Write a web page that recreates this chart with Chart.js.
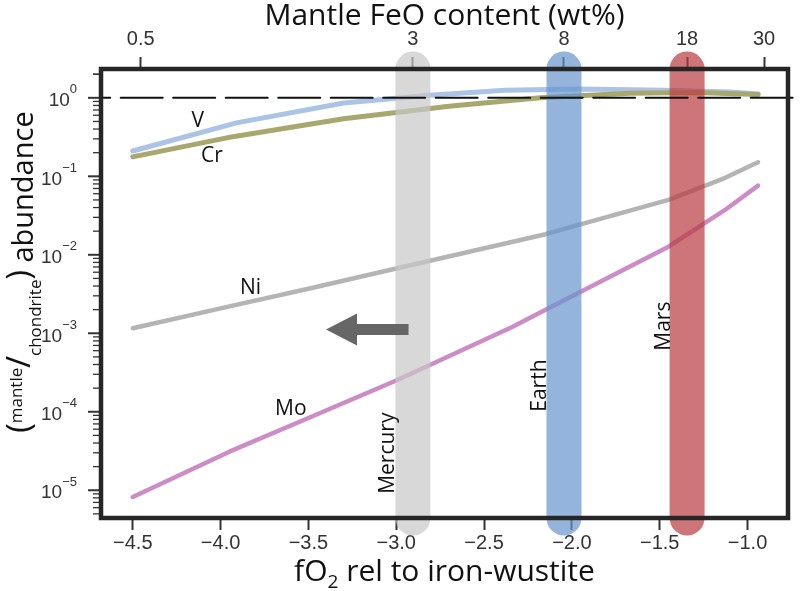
<!DOCTYPE html>
<html lang="en">
<head>
<meta charset="UTF-8">
<title>Mantle abundance vs fO2</title>
<script src="https://cdn.jsdelivr.net/npm/chart.js"></script>
<style>
  html, body { margin: 0; padding: 0; background: #fff; }
</style>
</head>
<body>
<canvas id="chart" width="800" height="591"></canvas>
<script>
// curves: x = fO2 rel. to IW, y = mantle/chondrite abundance
const vX  = [-4.5, -3.91, -3.30, -2.81, -2.38, -1.96, -1.48, -1.10, -0.94];
const vY  = [0.21, 0.48, 0.86, 1.08, 1.25, 1.30, 1.25, 1.19, 1.12];
const crX = [-4.5, -3.93, -3.30, -2.70, -2.18, -1.67, -1.29, -0.94];
const crY = [0.177, 0.32, 0.54, 0.78, 1.0, 1.14, 1.17, 1.10];
const niX = [-4.5, -3.95, -3.50, -3.00, -2.15, -1.45, -1.13, -0.94];
const niY = [0.00116, 0.0022, 0.0037, 0.0067, 0.0183, 0.050, 0.095, 0.151];
const moX = [-4.5, -3.95, -3.53, -3.00, -2.34, -2.05, -1.45, -1.13, -0.94];
const moY = [8.2e-6, 3.1e-5, 7.8e-5, 2.5e-4, 1.2e-3, 2.6e-3, 0.0127, 0.037, 0.076];

// element labels
const elemNames  = ['V', 'Cr', 'Ni', 'Mo'];
const elemLabelX = [-4.13, -4.05, -3.83, -3.60];
const elemLabelY = [0.50, 0.18, 0.0038, 1.08e-4];

// top axis: mantle FeO (wt%) and where it sits on the fO2 axis
const feoLabels = ['0.5', '3', '8', '18', '30'];
const feoAtX    = [-4.455, -2.905, -2.045, -1.344, -0.906];

// planets
const planets      = ['Mercury', 'Earth', 'Mars'];
const planetX      = [-2.905, -2.045, -1.344];
const planetLabelX = [-3.045, -2.183, -1.478];
const planetLabelY = [9e-6, 1e-4, 6e-4];

// bottom axis ticks
const xTicks = [-4.5, -4.0, -3.5, -3.0, -2.5, -2.0, -1.5, -1.0];
const yDecades = [-5, -4, -3, -2, -1, 0];

// axis ranges
const xMin = -4.681, xMax = -0.7695;
const yMin = 4.43e-6, yMax = 2.33;

// arrow (towards more reducing)
const arrowFrom = [-2.93, 1.12e-3];
const arrowTo   = [-3.40, 1.12e-3];

const pts = (xs, ys) => xs.map((x, i) => ({x: x, y: ys[i]}));
const fmtX = v => (v < 0 ? '\u2212' : '') + Math.abs(v).toFixed(1);

const lineStyle = (color, w, order) => ({
    borderColor: color, borderWidth: w, pointRadius: 0, tension: 0,
    borderCapStyle: 'round', borderJoinStyle: 'round', fill: false, order: order
});

const bandColors = ['rgba(199,199,199,0.7)', 'rgba(102,148,205,0.7)', 'rgba(185,58,64,0.7)'];

const datasets = [
    Object.assign({label: 'unity', data: pts([xMin, -0.70], [1, 1]), clip: false,
        borderDash: [42, 10.5], borderDashOffset: 32.8}, lineStyle('#111', 2, 0)),
    Object.assign({label: 'Cr', data: pts(crX, crY)}, lineStyle('#a8a76e', 5, 3)),
    Object.assign({label: 'V', data: pts(vX, vY)}, lineStyle('#abc3e5', 5, 4)),
    Object.assign({label: 'Ni', data: pts(niX, niY)}, lineStyle('#b4b4b4', 4.5, 5)),
    Object.assign({label: 'Mo', data: pts(moX, moY)}, lineStyle('#cc8cc6', 4.5, 6))
];
planets.forEach((p, i) => {
    datasets.push(Object.assign({label: p, data: pts([planetX[i], planetX[i]], [yMax, yMin]), clip: false},
        lineStyle(bandColors[i], 35, 1)));
});

const tickFont = {family: 'Liberation Sans', size: 20};
const textFont = 'Open Sans';

const decor = {
    id: 'decor',
    afterDraw(chart) {
        const ctx = chart.ctx, a = chart.chartArea;
        const x = chart.scales.x, y = chart.scales.y;
        ctx.save();

        // frame
        ctx.strokeStyle = '#262626';
        ctx.lineWidth = 4.5;
        ctx.strokeRect(a.left, a.top, a.right - a.left, a.bottom - a.top);

        // log y ticks
        ctx.strokeStyle = '#333';
        for (let e = -6; e <= 0; e++) {
            for (let k = 1; k <= 9; k++) {
                const v = k * Math.pow(10, e);
                if (v < yMin || v > yMax) continue;
                const py = y.getPixelForValue(v);
                const len = k === 1 ? 11 : 6;
                ctx.lineWidth = k === 1 ? 2 : 1.3;
                ctx.beginPath();
                ctx.moveTo(a.left - 2, py);
                ctx.lineTo(a.left - 2 - len, py);
                ctx.stroke();
            }
        }
        if (yMax > 2) {
            const py = y.getPixelForValue(2);
            ctx.lineWidth = 1.3;
            ctx.beginPath(); ctx.moveTo(a.left - 2, py); ctx.lineTo(a.left - 8, py); ctx.stroke();
        }
        ctx.fillStyle = '#333';
        ctx.textBaseline = 'middle';
        yDecades.forEach(e => {
            const py = y.getPixelForValue(Math.pow(10, e));
            const ex = e === 0 ? '0' : '\u2212' + Math.abs(e);
            ctx.font = '13px "Liberation Sans"';
            const ew = ctx.measureText(ex).width;
            ctx.textAlign = 'left';
            ctx.fillText(ex, 77 - ew, py - 8);
            ctx.font = '19px "Liberation Sans"';
            ctx.textAlign = 'right';
            ctx.fillText('10', 77 - ew, py + 3);
        });

        // y title with super/subscript
        ctx.fillStyle = '#111';
        const parts = [
            {t: '(', s: 32, dy: -3},
            {t: 'mantle', s: 17, dy: -11},
            {t: '/', s: 32, dy: -3},
            {t: 'chondrite', s: 17, dy: 8},
            {t: ')', s: 32, dy: -3},
            {t: ' abundance', s: 29, dy: 0}
        ];
        let total = 0;
        parts.forEach(p => { ctx.font = p.s + 'px "' + textFont + '"'; p.w = ctx.measureText(p.t).width; total += p.w; });
        ctx.save();
        ctx.translate(33, 272);
        ctx.rotate(-Math.PI / 2);
        ctx.textAlign = 'left';
        ctx.textBaseline = 'alphabetic';
        let cx = -total / 2;
        parts.forEach(p => {
            ctx.font = p.s + 'px "' + textFont + '"';
            ctx.fillText(p.t, cx, p.dy);
            cx += p.w;
        });
        ctx.restore();

        // top title
        const mid = (a.left + a.right) / 2;
        ctx.font = '30px "' + textFont + '"';
        ctx.textAlign = 'center';
        ctx.textBaseline = 'alphabetic';
        ctx.fillText('Mantle FeO content (wt%)', mid, 25);

        // bottom title fO2
        const segs = [{t: 'fO', s: 30, dy: 0}, {t: '2', s: 19, dy: 7}, {t: ' rel to iron-wustite', s: 30, dy: 0}];
        let bw = 0;
        segs.forEach(p => { ctx.font = p.s + 'px "' + textFont + '"'; p.w = ctx.measureText(p.t).width; bw += p.w; });
        let bx = mid - bw / 2;
        ctx.textAlign = 'left';
        segs.forEach(p => {
            ctx.font = p.s + 'px "' + textFont + '"';
            ctx.fillText(p.t, bx, 581 + p.dy);
            bx += p.w;
        });

        // element labels
        ctx.font = '21px "' + textFont + '"';
        ctx.textAlign = 'center';
        ctx.textBaseline = 'middle';
        elemNames.forEach((n, i) => {
            ctx.fillText(n, x.getPixelForValue(elemLabelX[i]), y.getPixelForValue(elemLabelY[i]));
        });

        // planet labels
        planets.forEach((p, i) => {
            ctx.save();
            ctx.translate(x.getPixelForValue(planetLabelX[i]), y.getPixelForValue(planetLabelY[i]));
            ctx.rotate(-Math.PI / 2);
            ctx.textAlign = 'left';
            ctx.fillText(p, 0, 0);
            ctx.restore();
        });

        // arrow
        const x0 = x.getPixelForValue(arrowFrom[0]), x1 = x.getPixelForValue(arrowTo[0]);
        const ay = y.getPixelForValue(arrowFrom[1]);
        const headLen = 31, headHalf = 16, shaftHalf = 5.5;
        ctx.fillStyle = '#666';
        ctx.beginPath();
        ctx.moveTo(x0, ay - shaftHalf);
        ctx.lineTo(x1 + headLen, ay - shaftHalf);
        ctx.lineTo(x1 + headLen, ay - headHalf);
        ctx.lineTo(x1, ay);
        ctx.lineTo(x1 + headLen, ay + headHalf);
        ctx.lineTo(x1 + headLen, ay + shaftHalf);
        ctx.lineTo(x0, ay + shaftHalf);
        ctx.closePath();
        ctx.fill();

        ctx.restore();
    }
};

new Chart(document.getElementById('chart'), {
    type: 'line',
    data: {datasets: datasets},
    options: {
        responsive: false,
        animation: false,
        layout: {padding: {left: 101, right: 12, top: 0, bottom: 0}},
        plugins: {legend: {display: false}, tooltip: {enabled: false}},
        scales: {
            x: {
                type: 'linear', position: 'bottom', min: xMin, max: xMax, z: 1,
                afterBuildTicks: s => { s.ticks = xTicks.map(v => ({value: v})); },
                afterFit: s => { s.height = 73; },
                ticks: {autoSkip: false, maxRotation: 0, padding: 1, color: '#333', font: tickFont,
                    callback: v => fmtX(v)},
                grid: {drawOnChartArea: false, drawTicks: true, tickLength: 12, tickWidth: 2, tickColor: '#333'},
                border: {display: false}
            },
            x2: {
                type: 'linear', position: 'top', min: xMin, max: xMax, z: 1,
                afterBuildTicks: s => { s.ticks = feoAtX.map(v => ({value: v})); },
                afterFit: s => { s.height = 69; },
                ticks: {autoSkip: false, maxRotation: 0, padding: 6, color: '#333', font: tickFont,
                    callback: (v, i) => feoLabels[i]},
                grid: {drawOnChartArea: false, drawTicks: true, tickLength: 12, tickWidth: 2, tickColor: '#333'},
                border: {display: false}
            },
            y: {
                type: 'logarithmic', min: yMin, max: yMax, display: false
            }
        }
    },
    plugins: [decor]
});
</script>
</body>
</html>
